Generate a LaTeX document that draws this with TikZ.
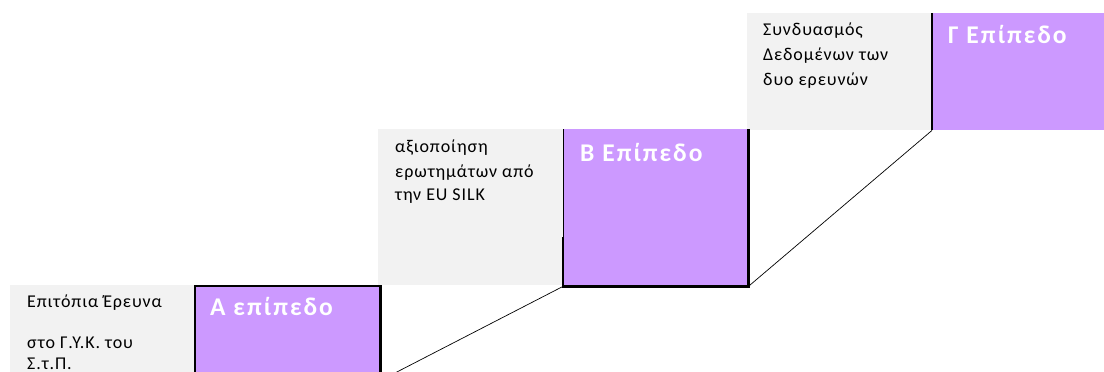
\documentclass[tikz,border=0pt]{standalone}
\usepackage{fontspec}
\setmainfont{Carlito}
\newfontfamily\bodyfont[LetterSpace=5]{Carlito}
\newfontfamily\titlefont[LetterSpace=8]{Carlito}
\definecolor{boxgray}{HTML}{F2F2F2}
\definecolor{boxpurple}{HTML}{CC99FF}
\begin{document}
\begin{tikzpicture}[x=1pt,y=-1pt,
  graybox/.style={fill=boxgray,draw=none,inner sep=0pt,anchor=north west},
  purplebox/.style={fill=boxpurple,draw=none,inner sep=0pt,anchor=north west},
  bodytext/.style={anchor=base west,inner sep=0pt,font=\bodyfont\fontsize{18}{21}\selectfont,text=black},
  titletext/.style={anchor=base west,inner sep=0pt,font=\titlefont\fontsize{25.5}{30}\selectfont\bfseries,text=white},
  edge/.style={draw=black,line width=2.4pt},
  thin/.style={draw=black,line width=0.8pt},
  link/.style={draw=black,line width=0.7pt}]
\useasboundingbox (0,0) rectangle (1104,372);
\begin{scope}
\clip (0,0) rectangle (1104,372);
% level A
\node[graybox,minimum width=185pt,minimum height=90pt] (ga) at (10,285) {};
\node[purplebox,minimum width=185pt,minimum height=90pt] (pa) at (195,286) {};
% level B
\node[graybox,minimum width=186pt,minimum height=156pt] (gb) at (378,129) {};
\node[purplebox,minimum width=185pt,minimum height=157pt] (pb) at (563,129) {};
% level C
\node[graybox,minimum width=186pt,minimum height=117pt] (gc) at (747,13) {};
\node[purplebox,minimum width=172pt,minimum height=117pt] (pc) at (932,13) {};
% borders
\draw[edge] (pa.south west) -- (pa.north west) -- (pa.north east) -- (pa.south east);
\draw[thin] (pb.north west) -- ([yshift=49pt]pb.south west);
\draw[edge] ([yshift=49pt]pb.south west) -- (pb.south west) -- (pb.south east) -- (pb.north east);
\draw[edge] (pc.north west) -- (pc.south west);
% connectors
\coordinate (abot) at ([xshift=6pt,yshift=-1pt]pa.south east);
\draw[link] (abot) -- (pb.south west);
\draw[link] (pb.south east) -- (pc.south west);
\end{scope}
% texts
\node[bodytext] (ta1) at (27,307) {Επιτόπια Έρευνα};
\node[bodytext] (ta2) at (27,348) {στο Γ.Υ.Κ. του};
\node[bodytext] (ta3) at (27,369) {Σ.τ.Π.};
\node[titletext] (la) at (210,315) {Α επίπεδο};
\node[bodytext] (tb1) at (395,152) {αξιοποίηση};
\node[bodytext] (tb2) at (395,177) {ερωτημάτων από};
\node[bodytext] (tb3) at (395,200) {την EU SILK};
\node[titletext] (lb) at (580,161) {Β Επίπεδο};
\node[bodytext] (tc1) at (763,35) {Συνδυασμός};
\node[bodytext] (tc2) at (763,60) {Δεδομένων των};
\node[bodytext] (tc3) at (763,85) {δυο ερευνών};
\node[titletext] (lc) at (948,43) {Γ Επίπεδο};
\end{tikzpicture}
\end{document}
